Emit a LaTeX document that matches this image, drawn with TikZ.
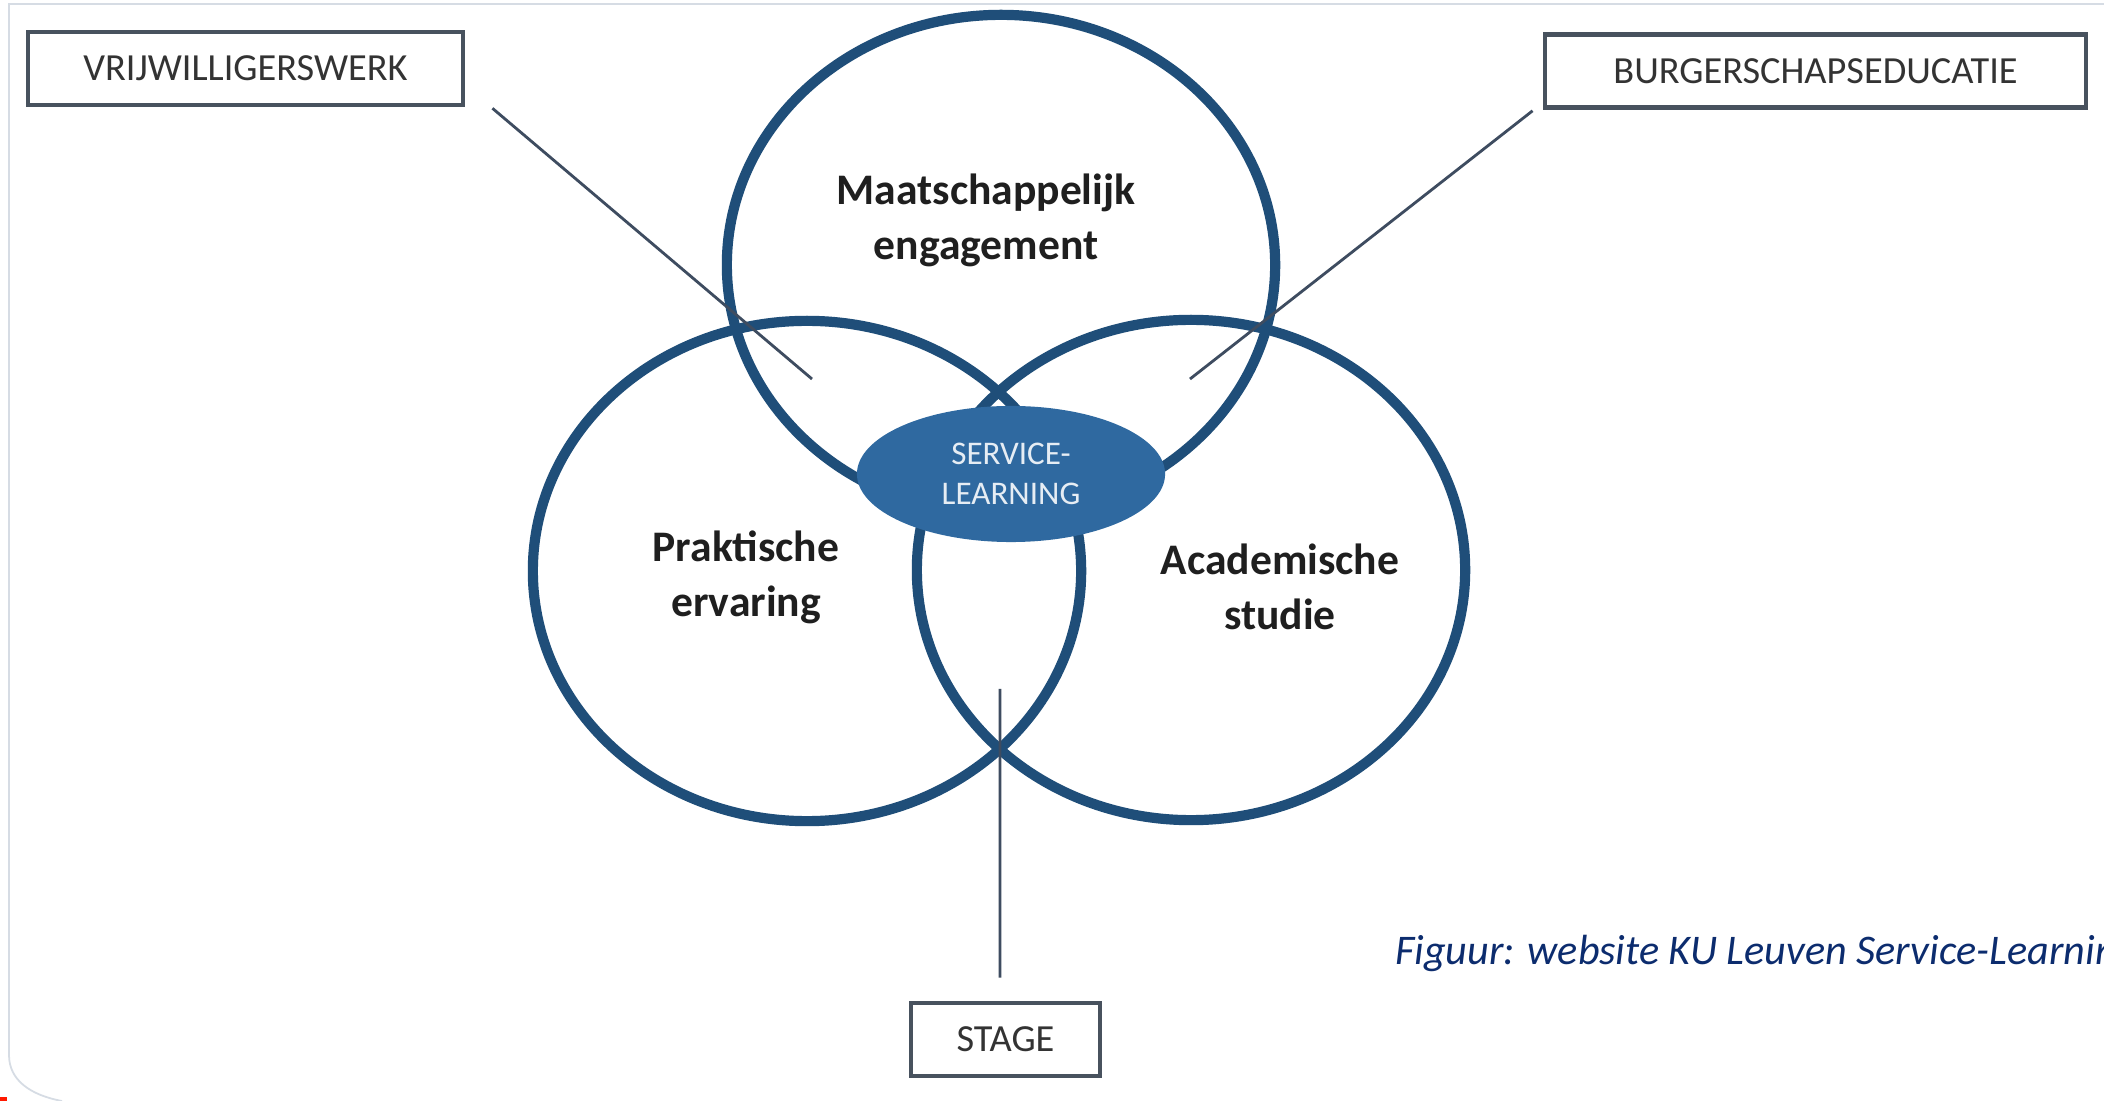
\documentclass[tikz,border=0pt]{standalone}
\usepackage{fontspec}
\setmainfont{Carlito}
\usetikzlibrary{shapes.geometric, positioning}
\definecolor{ringblue}{RGB}{31,78,121}
\definecolor{servblue}{RGB}{47,105,160}
\definecolor{boxgray}{RGB}{72,82,94}
\definecolor{linegray}{RGB}{62,76,96}
\definecolor{framegray}{RGB}{214,220,228}
\definecolor{capblue}{RGB}{12,44,110}

\begin{document}
\begin{tikzpicture}[x=0.01cm, y=-0.01cm, line width=0.6pt,
    ring/.style={ellipse, draw=ringblue, line width=2.9pt, minimum width=5.48cm, minimum height=5cm, inner sep=0pt},
    core/.style={ellipse, fill=servblue, minimum width=3.08cm, minimum height=1.36cm, inner sep=0pt, align=center, text=white!88!servblue, font=\fontsize{9.4}{11.2}\selectfont},
    tag/.style={draw=boxgray, line width=1.3pt, fill=white, minimum height=0.73cm, text=black!80, font=\fontsize{10.9}{12}\selectfont},
    area/.style={align=center, font=\fontsize{12.4}{15.6}\selectfont\bfseries, text=black!88},
    pointer/.style={draw=linegray, line width=0.8pt}]
                            \useasboundingbox (0,0) rectangle (2104,1101);
                            \clip (0,0) rectangle (2104,1101);
                            \fill[white] (0,0) rectangle (2104,1101);
                            \draw[framegray, line width=0.5pt] (2104,4) -- (9,4) -- (9,1055) .. controls (9,1080) and (30,1095) .. (62,1101);
                            \fill[red!80!orange] (0,1097) rectangle (7,1101);

                            \node [ring] (maat) at (1001, 265) {};
                            \node [ring] (prak) at (807, 571) {};
                            \node [ring] (acad) at (1191, 570) {};
                            \node [core] (service) at (1011, 474) {SERVICE-\\LEARNING};

                            \node [area] (maattext) at (986, 220) {Maatschappelijk\\engagement};
                            \node [area] (praktext) at (746, 577) {Praktische\\ervaring};
                            \node [area] (acadtext) at (1280, 587) {Academische\\studie};

                            \node [tag, minimum width=4.35cm] (vrij) at (245.5, 68.5) {VRIJWILLIGERSWERK};
                            \node [tag, minimum width=5.41cm] (burger) at (1815.5, 71) {BURGERSCHAPSEDUCATIE};
                            \node [tag, minimum width=1.89cm] (stage) at (1005.5, 1039.5) {STAGE};

                            \coordinate (vrijend) at (812, 379);
                            \coordinate (burgerend) at (1190, 379);
                            \coordinate (stageend) at (1000, 689);

                            \path [pointer] ([xshift=0.27cm, yshift=-0.01cm]vrij.south east) edge (vrijend);
                            \path [pointer] ([xshift=-0.1cm, yshift=-0.01cm]burger.south west) edge (burgerend);
                            \path [pointer] ([xshift=-0.055cm, yshift=0.23cm]stage.north) edge (stageend);

                            \node [anchor=west, inner sep=0pt, text=capblue, font=\fontsize{12}{14}\selectfont\itshape] (caption) at (1394, 953) {Figuur: website KU Leuven Service-Learning};
                        \end{tikzpicture}
\end{document}
